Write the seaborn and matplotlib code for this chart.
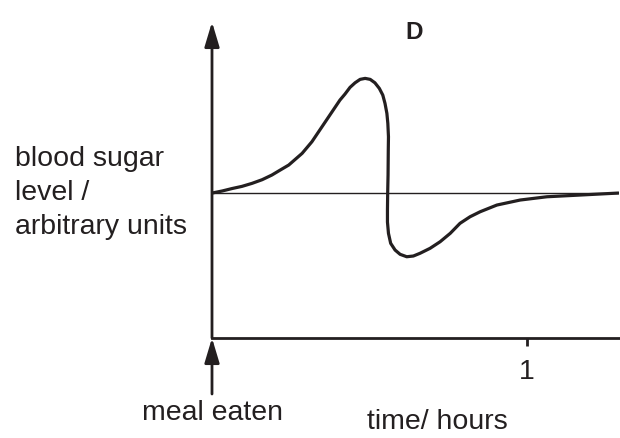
import numpy as np
import pandas as pd
import matplotlib
matplotlib.use("Agg")
import matplotlib.pyplot as plt
import seaborn as sns

# blood sugar after a meal (graph D)
hours = [0.0, 0.032, 0.0635, 0.095, 0.127, 0.159, 0.190, 0.216, 0.2435, 0.286,
         0.317, 0.349, 0.381, 0.406, 0.422, 0.438, 0.454, 0.470, 0.486, 0.502,
         0.517, 0.531, 0.542, 0.549, 0.555, 0.558, 0.560, 0.5594, 0.5587, 0.5575,
         0.5568, 0.5568, 0.560, 0.567, 0.581, 0.597, 0.618, 0.639, 0.660, 0.692,
         0.724, 0.756, 0.787, 0.819, 0.851, 0.904, 0.978, 1.063, 1.168, 1.29]
level = [5.0, 5.07, 5.155, 5.23, 5.334, 5.46, 5.621, 5.79, 5.966, 6.369,
         6.769, 7.286, 7.803, 8.207, 8.414, 8.645, 8.803, 8.921, 8.955, 8.921,
         8.803, 8.610, 8.379, 8.093, 7.748, 7.403, 6.941, 6.483, 5.621, 5.0,
         4.414, 4.0, 3.610, 3.266, 3.034, 2.886, 2.803, 2.828, 2.921, 3.093,
         3.321, 3.610, 3.955, 4.183, 4.355, 4.586, 4.759, 4.872, 4.931, 5.0]
normal_level = 5.0
x_ticks = [1]
x_tick_labels = ["1"]

df = pd.DataFrame({"hours": hours, "level": level})

sns.set_theme(style="white")
plt.rcParams["font.family"] = ["Liberation Sans", "DejaVu Sans"]

ink = "#231f20"
W, H = 620, 438
fig = plt.figure(figsize=(6.2, 4.38), dpi=100)
ax = fig.add_axes([212 / W, 1 - 338 / H, (618.5 - 212) / W, 316 / H])

ax.axhline(normal_level, color=ink, lw=1.0, zorder=1)
sns.lineplot(data=df, x="hours", y="level", sort=False, estimator=None,
             color=ink, lw=2.3, ax=ax, zorder=2)
ax.lines[-1].set_solid_joinstyle("round")
ax.lines[-1].set_solid_capstyle("round")

ax.set_xlim(0, 1.29)
ax.set_ylim(0, 10.9)
ax.set_xlabel("")
ax.set_ylabel("")
ax.set_yticks([])
ax.set_xticks(x_ticks)
ax.set_xticklabels(x_tick_labels, fontsize=20.5, color=ink)
ax.tick_params(axis="x", direction="out", length=6, width=2, color=ink,
               pad=9, bottom=True)

for s in ["top", "right", "left"]:
    ax.spines[s].set_visible(False)
ax.spines["bottom"].set_linewidth(2)
ax.spines["bottom"].set_color(ink)
ax.spines["bottom"].set_zorder(3)

# y axis with arrow head
ax.annotate("", xy=(0, 10.9), xytext=(0, 0),
            arrowprops=dict(arrowstyle="-|>,head_length=1.5,head_width=0.45",
                            mutation_scale=10, lw=2, color=ink,
                            shrinkA=0, shrinkB=0),
            annotation_clip=False)
# meal eaten arrow
ax.annotate("", xy=(0, 0), xytext=(0, -56), textcoords="offset pixels",
            arrowprops=dict(arrowstyle="-|>,head_length=1.5,head_width=0.45",
                            mutation_scale=10, lw=2, color=ink,
                            shrinkA=0, shrinkB=0),
            annotation_clip=False)

def ftext(px, py, s, **kw):
    fig.text(px / W, 1 - py / H, s, color=ink, va="baseline", **kw)

ftext(414, 39, "D", fontsize=17.5, fontweight="bold", ha="center")
ftext(15, 166, "blood sugar", fontsize=20.5, ha="left")
ftext(15, 200, "level /", fontsize=20.5, ha="left")
ftext(15, 234, "arbitrary units", fontsize=20.5, ha="left")
ftext(142, 420, "meal eaten", fontsize=20.5, ha="left")
ftext(437, 429, "time/ hours", fontsize=20.5, ha="center")

fig.savefig("out.png", dpi=100)
